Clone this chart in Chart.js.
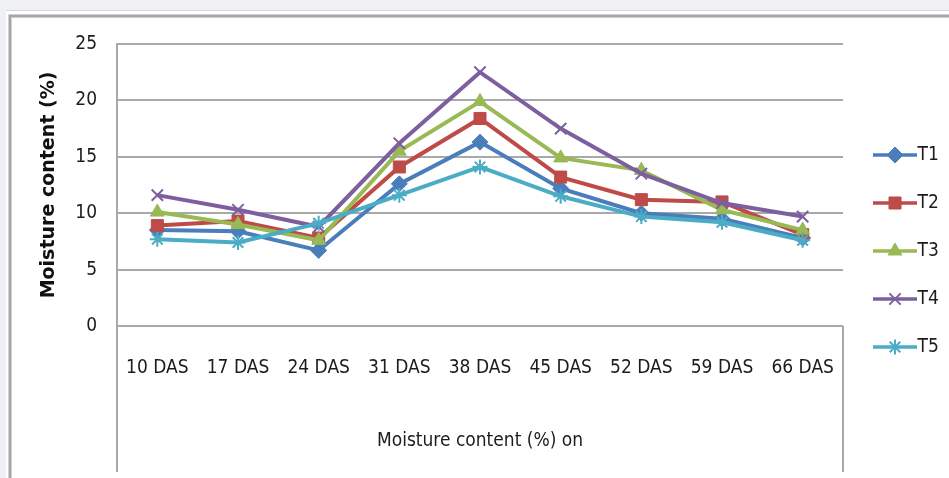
<!DOCTYPE html>
<html>
<head>
<meta charset="utf-8">
<script src="https://cdn.jsdelivr.net/npm/chart.js@4/dist/chart.umd.min.js"></script>
<style>
  html, body { margin: 0; padding: 0; width: 949px; height: 478px; overflow: hidden; background: #eef0f3; }
  #panel { position: absolute; left: 6px; top: 10px; right: 0; bottom: 0; background: #fff; border-top: 1px solid #d6d8db; }
  #frame { position: absolute; left: 9px; top: 15px; right: -20px; bottom: -20px;
           border-left: 2px solid #a6a6a6; border-top: 2px solid #a6a6a6;
           box-shadow: -1px -1px 0 #d2d2d2, inset 1px 1px 0 #d2d2d2; }
  #chart { position: absolute; left: 0; top: 0; }
</style>
</head>
<body>
<div id="panel"></div>
<div id="frame"></div>
<canvas id="chart" width="949" height="478"></canvas>
<script>
// Sampling days and treatment readings of moisture content (%)
const categories = ['10 DAS', '17 DAS', '24 DAS', '31 DAS', '38 DAS', '45 DAS', '52 DAS', '59 DAS', '66 DAS'];
const seriesNames = ['T1', 'T2', 'T3', 'T4', 'T5'];
const t1 = [8.5, 8.4, 6.7, 12.6, 16.3, 12.2, 10.0, 9.5, 7.8];
const t2 = [8.9, 9.3, 7.8, 14.1, 18.4, 13.2, 11.2, 11.0, 8.1];
const t3 = [10.1, 9.0, 7.6, 15.5, 19.9, 14.9, 13.8, 10.3, 8.5];
const t4 = [11.6, 10.3, 8.8, 16.2, 22.5, 17.5, 13.5, 10.9, 9.7];
const t5 = [7.7, 7.4, 9.1, 11.6, 14.1, 11.5, 9.7, 9.2, 7.6];
const yTicks = [0, 5, 10, 15, 20, 25];

const seriesValues = [t1, t2, t3, t4, t5];
const colors = ['#4a7ebb', '#be4b48', '#98b954', '#7d5fa0', '#4bacc6'];
const markers = [
  { pointStyle: 'rectRot', radius: 8, borderWidth: 1 },
  { pointStyle: 'rect', radius: 8.5, borderWidth: 1 },
  { pointStyle: 'triangle', radius: 8, borderWidth: 1 },
  { pointStyle: 'crossRot', radius: 8, borderWidth: 2 },
  { pointStyle: 'star', radius: 7.5, borderWidth: 2 }
];

const FONT = "'DejaVu Sans Condensed', 'Liberation Sans', sans-serif";
const TITLE_FONT = "'DejaVu Sans', 'Liberation Sans', sans-serif";
const TEXT = '#1c1c1c';
const GRID = '#a9a9a9';
Chart.defaults.font.family = FONT;
Chart.defaults.color = TEXT;

// Legend samples: a short line with the series marker in its middle
function legendIcon(i) {
  const c = document.createElement('canvas');
  c.width = 54; c.height = 22;
  const g = c.getContext('2d');
  g.strokeStyle = colors[i];
  g.fillStyle = colors[i];
  g.lineWidth = 3.5;
  g.beginPath(); g.moveTo(10, 11); g.lineTo(54, 11); g.stroke();
  const m = markers[i];
  g.lineWidth = m.borderWidth;
  Chart.helpers.drawPoint(g, { pointStyle: m.pointStyle, radius: m.radius, rotation: 0, borderWidth: m.borderWidth }, 32, 11);
  return c;
}
const legendIcons = seriesNames.map((_, i) => legendIcon(i));

// Legend sizing so the plot's right edge lands where the category box ends
const LEGEND_FONT = 19, LEGEND_PAD = 29, SAMPLE_W = 36;
const meas = document.createElement('canvas').getContext('2d');
meas.font = LEGEND_FONT + 'px ' + FONT;
const maxText = Math.max(...seriesNames.map(s => meas.measureText(s).width));
// the legend adds 10px of its own to the fitted column width
const legendWidth = LEGEND_PAD + SAMPLE_W + LEGEND_FONT / 2 + maxText + 10;
const rightPad = Math.max(0, 949 - 843 - legendWidth);

// Vertical edges of the category box under the plot
const categoryBox = {
  id: 'categoryBox',
  afterDraw(chart) {
    const { ctx, chartArea: a } = chart;
    ctx.save();
    ctx.strokeStyle = GRID;
    ctx.lineWidth = 2;
    ctx.beginPath();
    ctx.moveTo(a.left, a.bottom); ctx.lineTo(a.left, 472);
    ctx.moveTo(a.right, a.bottom); ctx.lineTo(a.right, 472);
    ctx.stroke();
    ctx.restore();
  }
};

new Chart(document.getElementById('chart'), {
  type: 'line',
  data: {
    labels: categories,
    datasets: seriesNames.map((name, i) => ({
      label: name,
      data: seriesValues[i],
      borderColor: colors[i],
      backgroundColor: colors[i],
      borderWidth: 4,
      tension: 0,
      pointStyle: markers[i].pointStyle,
      pointRadius: markers[i].radius,
      pointBorderWidth: markers[i].borderWidth,
      pointBackgroundColor: colors[i],
      pointBorderColor: colors[i],
      order: seriesNames.length - 1 - i
    }))
  },
  options: {
    responsive: false,
    animation: false,
    devicePixelRatio: 1,
    layout: { padding: { left: 10, top: 44, right: rightPad, bottom: 20 } },
    plugins: {
      tooltip: { enabled: false },
      legend: {
        position: 'right',
        align: 'center',
        labels: {
          usePointStyle: true,
          pointStyleWidth: SAMPLE_W,
          padding: LEGEND_PAD,
          color: TEXT,
          font: { size: LEGEND_FONT },
          generateLabels(chart) {
            return chart.data.datasets.map((ds, i) => ({
              text: ds.label,
              datasetIndex: i,
              pointStyle: legendIcons[i],
              hidden: !chart.isDatasetVisible(i),
              fontColor: TEXT,
              fillStyle: colors[i],
              strokeStyle: colors[i],
              lineWidth: 0
            }));
          }
        }
      }
    },
    scales: {
      x: {
        offset: true,
        grid: { display: false, drawTicks: false, offset: true },
        border: { display: false },
        ticks: { padding: 31, font: { size: 19 }, color: TEXT, maxRotation: 0, autoSkip: false },
        title: { display: true, text: 'Moisture content (%) on', color: TEXT, font: { size: 19 }, padding: { top: 0, bottom: 6 } },
        afterFit(s) { s.height = 132; }
      },
      y: {
        min: 0,
        max: 25,
        afterBuildTicks(s) { s.ticks = yTicks.map(v => ({ value: v })); },
        grid: { color: GRID, lineWidth: 2, drawTicks: false },
        border: { display: true, color: GRID, width: 2 },
        ticks: { padding: 20, font: { size: 19 }, color: TEXT },
        title: { display: true, text: 'Moisture content (%)', color: '#111', font: { family: TITLE_FONT, size: 19, weight: 'bold' }, padding: { top: 28, bottom: 0 } },
        afterFit(s) { s.width = 107; }
      }
    }
  },
  plugins: [categoryBox]
});
</script>
</body>
</html>
